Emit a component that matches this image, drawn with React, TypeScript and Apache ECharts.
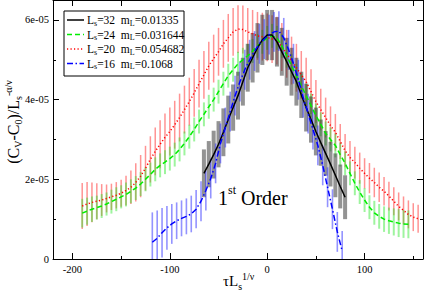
import React, { useEffect, useRef } from 'react';
import * as echarts from 'echarts';

const SCALE = 1e-5;
const FONT = "'Liberation Serif', 'DejaVu Serif', serif";

// ---- Ls=32, mL=0.01335 (black) ----
const blackX = [-65, -60, -55, -50, -45, -40, -35, -30, -25, -20, -15, -10, -5, 0, 5, 10, 15, 20, 25, 30, 35, 40, 45, 50, 55, 60, 65, 70, 75, 80];
const blackY = [2.15, 2.38, 2.62, 2.88, 3.18, 3.5, 3.8, 4.1, 4.45, 4.8, 5.05, 5.3, 5.5, 5.62, 5.62, 5.45, 5.2, 4.95, 4.7, 4.45, 4.12, 3.8, 3.5, 3.2, 2.92, 2.65, 2.38, 2.1, 1.82, 1.55];
const blackErr = [0.6, 0.58, 0.6, 0.58, 0.6, 0.6, 0.58, 0.6, 0.6, 0.6, 0.62, 0.62, 0.63, 0.63, 0.63, 0.62, 0.6, 0.6, 0.6, 0.6, 0.58, 0.6, 0.58, 0.6, 0.58, 0.56, 0.56, 0.55, 0.55, 0.55];

// ---- Ls=24, mL=0.031644 (green) ----
const greenX = [-190, -185, -180, -175, -170, -165, -160, -155, -150, -145, -140, -135, -130, -125, -120, -115, -110, -105, -100, -95, -90, -85, -80, -75, -70, -65, -60, -55, -50, -45, -40, -35, -30, -25, -20, -15, -10, -5, 0, 5, 10, 15, 20, 25, 30, 35, 40, 45, 50, 55, 60, 65, 70, 75, 80, 85, 90, 95, 100, 105, 110, 115, 120, 125, 130, 135, 140, 145];
const greenY = [1.15, 1.2, 1.25, 1.29, 1.33, 1.38, 1.44, 1.5, 1.56, 1.62, 1.7, 1.78, 1.88, 2.0, 2.12, 2.25, 2.35, 2.43, 2.52, 2.62, 2.75, 2.9, 3.07, 3.25, 3.45, 3.63, 3.82, 4.0, 4.2, 4.4, 4.6, 4.75, 4.9, 5.0, 5.1, 5.22, 5.35, 5.45, 5.55, 5.6, 5.55, 5.35, 5.1, 4.85, 4.6, 4.35, 4.1, 3.85, 3.6, 3.38, 3.15, 3.0, 2.85, 2.62, 2.4, 2.15, 1.9, 1.68, 1.48, 1.3, 1.16, 1.07, 1.0, 0.96, 0.93, 0.9, 0.88, 0.87];
const greenErr = [0.36, 0.34, 0.32, 0.3, 0.3, 0.29, 0.3, 0.3, 0.29, 0.3, 0.3, 0.3, 0.3, 0.3, 0.3, 0.3, 0.3, 0.3, 0.3, 0.3, 0.3, 0.3, 0.3, 0.3, 0.3, 0.3, 0.3, 0.3, 0.3, 0.3, 0.3, 0.3, 0.3, 0.3, 0.3, 0.3, 0.3, 0.3, 0.3, 0.3, 0.3, 0.3, 0.3, 0.3, 0.3, 0.3, 0.3, 0.3, 0.3, 0.3, 0.3, 0.3, 0.3, 0.3, 0.3, 0.3, 0.3, 0.3, 0.3, 0.3, 0.3, 0.31, 0.32, 0.33, 0.34, 0.35, 0.35, 0.35];

// ---- Ls=20, mL=0.054682 (red) ----
const redX = [-190, -185, -180, -175, -170, -165, -160, -155, -150, -145, -140, -135, -130, -125, -120, -115, -110, -105, -100, -95, -90, -85, -80, -75, -70, -65, -60, -55, -50, -45, -40, -35, -30, -25, -20, -15, -10, -5, 0, 5, 10, 15, 20, 25, 30, 35, 40, 45, 50, 55, 60, 65, 70, 75, 80, 85, 90, 95, 100, 105, 110, 115, 120, 125, 130, 135, 140, 145, 150, 155];
const redY = [1.33, 1.38, 1.42, 1.45, 1.48, 1.52, 1.56, 1.6, 1.65, 1.72, 1.8, 1.92, 2.08, 2.28, 2.5, 2.7, 2.88, 3.05, 3.2, 3.37, 3.55, 3.75, 3.95, 4.17, 4.4, 4.62, 4.85, 5.03, 5.2, 5.4, 5.55, 5.7, 5.77, 5.76, 5.7, 5.65, 5.6, 5.58, 5.56, 5.52, 5.48, 5.32, 5.15, 4.98, 4.8, 4.62, 4.45, 4.2, 3.95, 3.75, 3.55, 3.35, 3.18, 2.95, 2.72, 2.55, 2.42, 2.28, 2.15, 2.03, 1.92, 1.8, 1.7, 1.58, 1.45, 1.32, 1.22, 1.12, 1.05, 1.01];
const redErr = [0.58, 0.55, 0.5, 0.45, 0.4, 0.35, 0.33, 0.33, 0.34, 0.37, 0.42, 0.48, 0.53, 0.56, 0.58, 0.6, 0.6, 0.6, 0.6, 0.6, 0.6, 0.6, 0.6, 0.6, 0.6, 0.6, 0.6, 0.6, 0.6, 0.6, 0.6, 0.6, 0.6, 0.6, 0.6, 0.6, 0.6, 0.6, 0.6, 0.6, 0.6, 0.6, 0.6, 0.6, 0.6, 0.6, 0.6, 0.56, 0.54, 0.52, 0.5, 0.48, 0.46, 0.44, 0.42, 0.41, 0.4, 0.39, 0.38, 0.38, 0.37, 0.37, 0.36, 0.36, 0.35, 0.35, 0.35, 0.35, 0.35, 0.35];

// ---- Ls=16, mL=0.1068 (blue) ----
const blueX = [-118, -113, -108, -103, -98, -93, -88, -83, -78, -73, -68, -63, -58, -53, -48, -43, -38, -33, -28, -23, -18, -13, -8, -3, 2, 7, 12, 17, 22, 27, 32, 37, 42, 47, 52, 57, 62, 67, 72, 77];
const blueY = [0.42, 0.52, 0.66, 0.78, 0.88, 0.96, 1.02, 1.07, 1.13, 1.25, 1.45, 1.72, 2.02, 2.4, 2.9, 3.3, 3.7, 4.1, 4.45, 4.75, 5.0, 5.22, 5.4, 5.52, 5.63, 5.7, 5.72, 5.55, 5.25, 4.9, 4.5, 4.05, 3.65, 3.25, 2.85, 2.35, 1.8, 1.25, 0.68, 0.2];
const blueErr = [0.75, 0.7, 0.62, 0.55, 0.5, 0.46, 0.45, 0.45, 0.46, 0.48, 0.5, 0.5, 0.5, 0.5, 0.5, 0.5, 0.5, 0.5, 0.5, 0.5, 0.5, 0.5, 0.5, 0.5, 0.5, 0.5, 0.5, 0.5, 0.5, 0.5, 0.5, 0.5, 0.5, 0.5, 0.5, 0.5, 0.5, 0.5, 0.5, 0.5];

// ---- ticks ----
const xMajor = [-200, -100, 0, 100];
const xMinor = [-150, -50, 50, 150];
const yMajor = [0, 2e-5, 4e-5, 6e-5];
const yMinor = [1e-5, 3e-5, 5e-5];
const X_MIN = -220, X_MAX = 160, Y_MIN = 0, Y_MAX = 6.5e-5;

const names = ['Ls=32 mL=0.01335', 'Ls=24 mL=0.031644', 'Ls=20 mL=0.054682', 'Ls=16 mL=0.1068'];
const legendTexts = [
  '{n|L}{sub|s}{n|=32  m}{sub|L}{n|=0.01335}',
  '{n|L}{sub|s}{n|=24  m}{sub|L}{n|=0.031644}',
  '{n|L}{sub|s}{n|=20  m}{sub|L}{n|=0.054682}',
  '{n|L}{sub|s}{n|=16  m}{sub|L}{n|=0.1068}',
];
const xTitle = '{n|τL}{sub|s}{sup|1/ν}';
const yTitle = '{n|(C}{sub|V}{n|-C}{sub|0}{n|)/L}{sub|s}{sup|-α/ν}';
const colors = ['#000000', '#00ee00', '#ff0000', '#0000ff'];
const dashes: any[] = ['solid', [5, 3], [1.2, 2.3], [6, 2.5, 1.5, 2.5]];

const toLine = (xs: number[], ys: number[]) => xs.map((x, i) => [x, ys[i] * SCALE]);
const toBars = (xs: number[], ys: number[], es: number[]) =>
  xs.map((x, i) => [x, (ys[i] - es[i]) * SCALE, (ys[i] + es[i]) * SCALE]);

const barSeries = (name: string, data: number[][], color: string, width: number) => ({
  type: 'custom',
  name,
  data,
  clip: true,
  silent: true,
  z: 2,
  encode: { x: 0, y: [1, 2] },
  renderItem: (_p: any, api: any) => {
    const x = api.value(0);
    const a = api.coord([x, api.value(1)]);
    const b = api.coord([x, api.value(2)]);
    return {
      type: 'line',
      shape: { x1: a[0], y1: a[1], x2: b[0], y2: b[1] },
      style: { stroke: color, lineWidth: width },
    };
  },
});

const lineSeries = (name: string, data: number[][], color: string, type: any, width = 1.5) => ({
  type: 'line',
  name,
  data,
  symbol: 'none',
  showSymbol: false,
  clip: true,
  z: 3,
  itemStyle: { color },
  lineStyle: { color, width, type },
});

const xAxisBase = (position: string, ticks: number[], len: number, showLine: boolean, showLabel: boolean) => ({
  type: 'value',
  position,
  min: X_MIN,
  max: X_MAX,
  splitLine: { show: false },
  axisLine: { show: showLine, onZero: false, lineStyle: { color: '#000', width: 1 } },
  axisTick: { show: true, inside: true, length: len, customValues: ticks, lineStyle: { color: '#000', width: 1 } },
  axisLabel: showLabel
    ? { show: true, customValues: ticks, margin: 5, color: '#000', fontFamily: FONT, fontSize: 10.5 }
    : { show: false },
});

const yAxisBase = (position: string, ticks: number[], len: number, showLine: boolean, showLabel: boolean) => ({
  type: 'value',
  position,
  min: Y_MIN,
  max: Y_MAX,
  splitLine: { show: false },
  axisLine: { show: showLine, onZero: false, lineStyle: { color: '#000', width: 1 } },
  axisTick: { show: true, inside: true, length: len, customValues: ticks, lineStyle: { color: '#000', width: 1 } },
  axisLabel: showLabel
    ? {
        show: true,
        customValues: ticks,
        margin: 4,
        color: '#000',
        fontFamily: FONT,
        fontSize: 10.5,
        formatter: (v: number) => (v === 0 ? '0' : Math.round(v * 1e5) + 'e-05'),
      }
    : { show: false },
});

const titleRich = (size: number) => ({
  n: { fontFamily: FONT, fontSize: size, lineHeight: 20, verticalAlign: 'middle', fill: '#000' },
  sub: { fontFamily: FONT, fontSize: 10, lineHeight: 10, verticalAlign: 'bottom', fill: '#000' },
  sup: { fontFamily: FONT, fontSize: 10, lineHeight: 10, verticalAlign: 'top', fill: '#000' },
});

const legendRich = {
  n: { fontFamily: FONT, fontSize: 11.5, lineHeight: 14, verticalAlign: 'middle', fill: '#000' },
  sub: { fontFamily: FONT, fontSize: 8, lineHeight: 8, verticalAlign: 'bottom', fill: '#000' },
};

const legendGraphic = () => {
  const rowY = [20, 34.5, 49, 63.5];
  const children: any[] = [
    { type: 'rect', shape: { x: 64, y: 11, width: 120, height: 65 }, style: { fill: '#fff', stroke: '#000', lineWidth: 1 } },
  ];
  rowY.forEach((cy, i) => {
    children.push({
      type: 'line',
      shape: { x1: 67, y1: cy, x2: 84, y2: cy },
      style: { stroke: colors[i], lineWidth: 1.5, lineDash: dashes[i] === 'solid' ? null : dashes[i] },
    });
    children.push({
      type: 'text',
      x: 87,
      y: cy,
      style: { text: legendTexts[i], rich: legendRich, verticalAlign: 'middle', align: 'left', fill: '#000' },
    });
  });
  return { type: 'group', z: 20, children };
};

export default function App() {
  const ref = useRef<HTMLDivElement>(null);
  useEffect(() => {
    if (!ref.current) return;
    const chart = echarts.init(ref.current, null, { renderer: 'svg' });
    chart.setOption({
      animation: false,
      backgroundColor: '#fff',
      grid: { left: 53, right: 1, top: 0, bottom: 38, containLabel: false },
      xAxis: [
        xAxisBase('bottom', xMajor, 6, true, true),
        xAxisBase('bottom', xMinor, 3, false, false),
        xAxisBase('top', xMajor, 6, true, false),
        xAxisBase('top', xMinor, 6, false, false),
      ],
      yAxis: [
        yAxisBase('left', yMajor, 6, true, true),
        yAxisBase('left', yMinor, 3, false, false),
        yAxisBase('right', yMajor, 6, true, false),
        yAxisBase('right', yMinor, 3, false, false),
      ],
      graphic: [
        legendGraphic(),
        {
          type: 'text',
          x: 223,
          y: 281,
          z: 10,
          style: { text: xTitle, rich: titleRich(15), align: 'left', verticalAlign: 'middle', fill: '#000' },
        },
        {
          type: 'text',
          x: 13,
          y: 122,
          rotation: Math.PI / 2,
          z: 10,
          style: { text: yTitle, rich: titleRich(16), align: 'center', verticalAlign: 'middle', fill: '#000' },
        },
        {
          type: 'text',
          left: 218,
          top: 184,
          z: 10,
          style: {
            text: '{a|1}{b|st}{a| Order}',
            rich: {
              a: { fontFamily: FONT, fontSize: 20, lineHeight: 24, verticalAlign: 'bottom', fill: '#000' },
              b: { fontFamily: FONT, fontSize: 12, lineHeight: 12, verticalAlign: 'top', fill: '#000' },
            },
            fill: '#000',
          },
        },
      ],
      series: [
        barSeries('redBars', toBars(redX, redY, redErr), 'rgba(255,40,40,0.5)', 1.5),
        barSeries('greenBars', toBars(greenX, greenY, greenErr), 'rgba(40,230,40,0.45)', 2),
        barSeries('blackBars', toBars(blackX, blackY, blackErr), 'rgba(40,40,40,0.5)', 4),
        barSeries('blueBars', toBars(blueX, blueY, blueErr), 'rgba(40,40,255,0.5)', 1.6),
        lineSeries(names[2], toLine(redX, redY), colors[2], dashes[2]),
        lineSeries(names[1], toLine(greenX, greenY), colors[1], dashes[1]),
        lineSeries(names[0], toLine(blackX, blackY), colors[0], dashes[0]),
        lineSeries(names[3], toLine(blueX, blueY), colors[3], dashes[3]),
      ],
    });
    return () => chart.dispose();
  }, []);
  return <div ref={ref} style={{ position: 'fixed', left: 0, top: 0, width: 424, height: 297 }} />;
}
